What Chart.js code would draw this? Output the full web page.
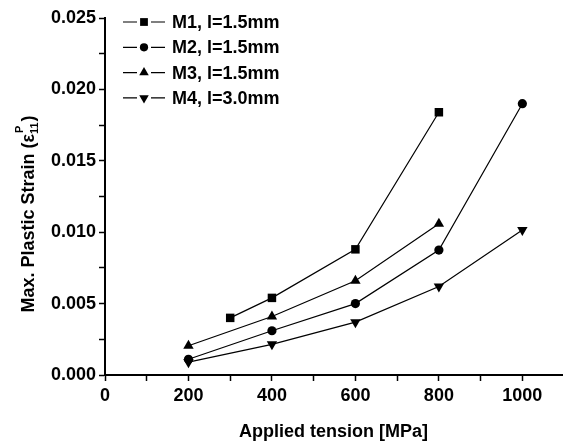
<!DOCTYPE html>
<html>
<head>
<meta charset="utf-8">
<script src="https://cdn.jsdelivr.net/npm/chart.js@4/dist/chart.umd.min.js"></script>
<style>
  html, body { margin: 0; padding: 0; background: #fff; }
  #wrap { width: 568px; height: 444px; }
</style>
</head>
<body>
<div id="wrap"><canvas id="strainChart" width="568" height="444"></canvas></div>
<script>
// applied tension [MPa] for each series
var tensionM1 = [300, 400, 600, 800];
var tensionM2 = [200, 400, 600, 800, 1000];
var tensionM3 = [200, 400, 600, 800];
var tensionM4 = [200, 400, 600, 800, 1000];

// max plastic strain
var strainM1 = [0.0040, 0.0054, 0.0088, 0.0184];
var strainM2 = [0.0011, 0.0031, 0.0050, 0.00875, 0.0190];
var strainM3 = [0.00205, 0.0041, 0.0066, 0.0106];
var strainM4 = [0.0009, 0.00215, 0.0037, 0.0062, 0.01015];

var seriesLabels = ['M1, l=1.5mm', 'M2, l=1.5mm', 'M3, l=1.5mm', 'M4, l=3.0mm'];
var markers = ['rect', 'circle', 'triangle', 'triangle'];
var markerRot = [0, 0, 0, 180];
var markerSize = [6, 4.6, 6, 6];

var xTitle = 'Applied tension [MPa]';
var yTitle = ['Max. Plastic Strain (\u03b5', '11', 'P', ')'];

var FONT = '"Liberation Sans", Arial, sans-serif';

function pts(xs, ys) {
    return xs.map(function(x, i) { return { x: x, y: ys[i] }; });
}

function isMultiple(v, step) {
    return Math.abs(v / step - Math.round(v / step)) < 1e-6;
}

var seriesData = [pts(tensionM1, strainM1), pts(tensionM2, strainM2),
                  pts(tensionM3, strainM3), pts(tensionM4, strainM4)];

var datasets = seriesData.map(function(d, i) {
    return {
        label: seriesLabels[i],
        data: d,
        borderColor: '#000',
        backgroundColor: '#000',
        borderWidth: 1.2,
        pointStyle: markers[i],
        pointRotation: markerRot[i],
        pointRadius: markerSize[i],
        pointBorderWidth: 0,
        tension: 0
    };
});

// Origin-like legend: short line broken by the marker, then the label
var legendPlugin = {
    id: 'originLegend',
    afterDraw: function(chart) {
        var ctx = chart.ctx;
        ctx.save();
        chart.data.datasets.forEach(function(ds, i) {
            var y = 22 + i * 25.3;
            var cx = 144;
            ctx.strokeStyle = '#000';
            ctx.lineWidth = 1.2;
            ctx.beginPath();
            ctx.moveTo(123, y); ctx.lineTo(137, y);
            ctx.moveTo(151, y); ctx.lineTo(165, y);
            ctx.stroke();
            ctx.fillStyle = '#000';
            Chart.helpers.drawPoint(ctx, {
                pointStyle: ds.pointStyle,
                rotation: ds.pointRotation,
                radius: ds.pointRadius - 0.5,
                borderWidth: 0
            }, cx, y);
            ctx.font = 'bold 18px ' + FONT;
            ctx.textBaseline = 'middle';
            ctx.textAlign = 'left';
            ctx.fillStyle = '#000';
            ctx.fillText(ds.label, 172, y + 1);
        });
        ctx.restore();
    }
};

// y title with subscript / superscript
var yTitlePlugin = {
    id: 'yTitle',
    afterDraw: function(chart) {
        var ctx = chart.ctx;
        var big = 'bold 18px ' + FONT, small = 'bold 11px ' + FONT;
        ctx.save();
        ctx.font = big;
        var w0 = ctx.measureText(yTitle[0]).width;
        var w3 = ctx.measureText(yTitle[3]).width;
        ctx.font = small;
        var w1 = ctx.measureText(yTitle[1]).width;
        var w2 = ctx.measureText(yTitle[2]).width;
        var total = w0 + Math.max(w1, w2) + 1 + w3;
        ctx.translate(34, 214);
        ctx.rotate(-Math.PI / 2);
        ctx.fillStyle = '#000';
        ctx.textBaseline = 'alphabetic';
        ctx.textAlign = 'left';
        var x = -total / 2;
        ctx.font = big;
        ctx.fillText(yTitle[0], x, 0);
        x += w0;
        ctx.font = small;
        ctx.fillText(yTitle[1], x, 4);
        ctx.fillText(yTitle[2], x + 1, -11);
        x += Math.max(w1, w2) + 1;
        ctx.font = big;
        ctx.fillText(yTitle[3], x, 0);
        ctx.restore();
    }
};

new Chart(document.getElementById('strainChart'), {
    type: 'line',
    data: { datasets: datasets },
    plugins: [legendPlugin, yTitlePlugin],
    options: {
        responsive: false,
        animation: false,
        devicePixelRatio: 1,
        layout: { padding: { top: 18, right: 0, left: 0, bottom: 0 } },
        plugins: {
            legend: { display: false },
            tooltip: { enabled: false }
        },
        scales: {
            x: {
                type: 'linear',
                min: 0,
                max: 1095,
                afterBuildTicks: function(scale) {
                    var t = [];
                    for (var v = 0; v <= 1000; v += 100) t.push({ value: v });
                    scale.ticks = t;
                },
                afterFit: function(scale) { scale.height = 69; },
                ticks: {
                    autoSkip: false,
                    maxRotation: 0,
                    padding: 4,
                    color: '#000',
                    font: { family: FONT, size: 18, weight: 'bold' },
                    callback: function(v) { return isMultiple(v, 200) ? Math.round(v) : ''; }
                },
                grid: {
                    drawOnChartArea: false,
                    tickLength: 6,
                    tickWidth: 1.5,
                    tickColor: '#000'
                },
                border: { color: '#000', width: 2 },
                title: {
                    display: true,
                    text: xTitle,
                    color: '#000',
                    font: { family: FONT, size: 18, weight: 'bold' },
                    padding: { top: 0, bottom: 1 }
                }
            },
            y: {
                min: 0,
                max: 0.025,
                afterFit: function(scale) { scale.width = 105; },
                ticks: {
                    stepSize: 0.0025,
                    autoSkip: false,
                    padding: 3,
                    color: '#000',
                    font: { family: FONT, size: 18, weight: 'bold' },
                    callback: function(v) {
                        return isMultiple(v, 0.005) ? v.toFixed(3) : '';
                    }
                },
                grid: {
                    drawOnChartArea: false,
                    tickLength: 6,
                    tickWidth: 1.5,
                    tickColor: '#000'
                },
                border: { color: '#000', width: 2 }
            }
        }
    }
});
</script>
</body>
</html>
